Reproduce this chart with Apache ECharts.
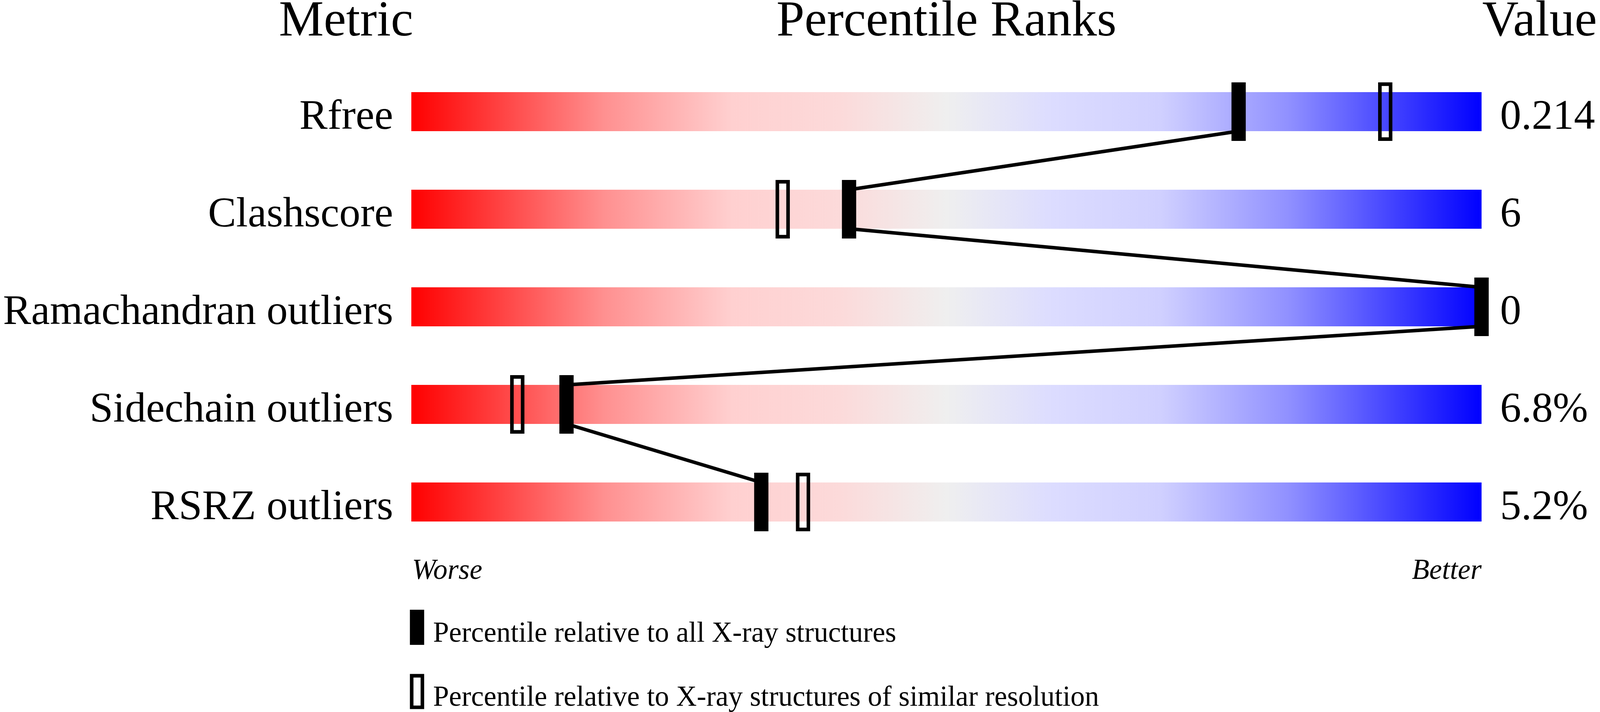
<!DOCTYPE html>
<html>
<head>
<meta charset="utf-8">
<title>Percentile Ranks</title>
<script src="https://cdn.jsdelivr.net/npm/echarts@6/dist/echarts.min.js"></script>
<style>
  html, body { margin: 0; padding: 0; background: #fff; overflow: hidden; }
  #chart { width: 100vw; height: 100vh; }
</style>
</head>
<body>
<div id="chart"></div>
<script>
const echarts = window.echarts

// 数据
const metrics = ['Rfree', 'Clashscore', 'Ramachandran outliers', 'Sidechain outliers', 'RSRZ outliers']
const metricValues = ['0.214', '6', '0', '6.8%', '5.2%']
// 相对所有X射线结构的百分位
const absolutePercentiles = [77.3, 40.9, 100, 14.5, 32.7]
// 相对相似分辨率结构的百分位
const relativePercentiles = [91.0, 34.7, 100, 9.9, 36.6]

const FONT = 'Liberation Serif'
const nameAll = 'Percentile relative to all X-ray structures'
const nameSimilar = 'Percentile relative to X-ray structures of similar resolution'

const chart = echarts.init(document.getElementById('chart'))

// 按参考图 4485x1824 设计，再按实际窗口缩放
const sx = chart.getWidth() / 4485
const sy = chart.getHeight() / 1824
const X = v => v * sx
const Y = v => v * sy
const F = v => Math.round(v * sx)
// 由基线求文字 middle 位置（经验系数）
const mid = (baseline, size) => Y(baseline) - 0.31 * size

const BAR_HEIGHT = Y(100)
const MARKER_W = X(40)
const MARKER_H = Y(150)
const LINE_W = 10 * sx

const headSize = F(141)
const labelSize = F(118)
const smallSize = F(80)

// 标签所在网格相对条形网格向下偏移，使基线落在条形底边
const labelDy = mid(335, labelSize) - Y(286)

const gradient = new echarts.graphic.LinearGradient(0, 0, 1, 0, [
  { offset: 0, color: '#ff0000' },
  { offset: 0.18, color: '#ff9090' },
  { offset: 0.3, color: '#ffd0d0' },
  { offset: 0.4, color: '#fcdada' },
  { offset: 0.5, color: '#efefef' },
  { offset: 0.6, color: '#dcdcff' },
  { offset: 0.7, color: '#d0d0ff' },
  { offset: 0.82, color: '#9090ff' },
  { offset: 1, color: '#0000ff' }
])

// 连接线：当前行底部 -> 下一行顶部
const links = absolutePercentiles.slice(0, -1).map((p, i) => [p, i, absolutePercentiles[i + 1], i + 1])

const hiddenAxis = {
  axisLine: { show: false },
  axisTick: { show: false },
  splitLine: { show: false }
}

const option = {
  backgroundColor: '#fff',
  animation: false,
  grid: [
    { left: X(1153), right: X(332), top: Y(161), bottom: Y(413) },
    { left: X(1153), right: X(332), top: Y(161) + labelDy, bottom: Y(413) - labelDy }
  ],
  xAxis: [
    { type: 'value', min: 0, max: 100, show: false, gridIndex: 0 },
    { type: 'value', min: 0, max: 100, show: false, gridIndex: 1 }
  ],
  yAxis: [
    { type: 'category', data: metrics, inverse: true, show: false, gridIndex: 0 },
    {
      type: 'category',
      data: metrics,
      inverse: true,
      gridIndex: 1,
      position: 'left',
      ...hiddenAxis,
      axisLabel: { fontFamily: FONT, fontSize: labelSize, color: '#000', margin: X(51) }
    },
    {
      type: 'category',
      data: metricValues,
      inverse: true,
      gridIndex: 1,
      position: 'right',
      ...hiddenAxis,
      axisLabel: { fontFamily: FONT, fontSize: labelSize, color: '#000', margin: X(52), align: 'left' }
    }
  ],
  legend: [
    {
      data: [{ name: nameAll, icon: 'rect', itemStyle: { color: '#000', borderWidth: 0 } }],
      left: X(1149), top: Y(1562), padding: 0,
      itemWidth: X(40), itemHeight: Y(90),
      selectedMode: false,
      formatter: name => `{t|${name}}`,
      textStyle: {
        rich: { t: { fontFamily: FONT, fontSize: smallSize, color: '#000', padding: [2 * (mid(1647, smallSize) - Y(1607)), 0, 0, X(1214) - X(1189) - 5] } }
      }
    },
    {
      data: [{ name: nameSimilar, icon: 'rect', itemStyle: { color: 'transparent', borderColor: '#000', borderWidth: LINE_W } }],
      left: X(1149), top: Y(1722) + LINE_W / 2, padding: 0,
      itemWidth: X(40) - LINE_W, itemHeight: Y(90) - LINE_W,
      selectedMode: false,
      formatter: name => `{t|${name}}`,
      textStyle: {
        rich: { t: { fontFamily: FONT, fontSize: smallSize, color: '#000', padding: [2 * (mid(1807, smallSize) - Y(1767)), 0, 0, X(1214) - X(1189) + LINE_W / 2 - 5] } }
      }
    }
  ],
  graphic: [
    { type: 'text', x: X(970), y: mid(97, headSize), style: { text: 'Metric', font: `${headSize}px "${FONT}"`, fill: '#000', align: 'center', verticalAlign: 'middle' } },
    { type: 'text', x: X(2653), y: mid(97, headSize), style: { text: 'Percentile Ranks', font: `${headSize}px "${FONT}"`, fill: '#000', align: 'center', verticalAlign: 'middle' } },
    { type: 'text', x: X(4155), y: mid(97, headSize), style: { text: 'Value', font: `${headSize}px "${FONT}"`, fill: '#000', align: 'left', verticalAlign: 'middle' } },
    { type: 'text', x: X(1155), y: mid(1486, smallSize), style: { text: 'Worse', font: `italic ${smallSize}px "${FONT}"`, fill: '#000', align: 'left', verticalAlign: 'middle' } },
    { type: 'text', x: X(4153), y: mid(1486, smallSize), style: { text: 'Better', font: `italic ${smallSize}px "${FONT}"`, fill: '#000', align: 'right', verticalAlign: 'middle' } }
  ],
  series: [
    {
      type: 'bar',
      silent: true,
      data: metrics.map(() => 100),
      barWidth: BAR_HEIGHT,
      itemStyle: { color: gradient },
      z: 1
    },
    {
      name: nameSimilar,
      type: 'custom',
      silent: true,
      z: 3,
      data: relativePercentiles.map((p, i) => [p, i]),
      renderItem(params, api) {
        const c = api.coord([api.value(0), api.value(1)])
        return {
          type: 'rect',
          shape: {
            x: c[0] - MARKER_W / 2 + LINE_W / 2,
            y: c[1] - MARKER_H / 2 + LINE_W / 2,
            width: MARKER_W - LINE_W,
            height: MARKER_H - LINE_W
          },
          style: { fill: 'none', stroke: '#000', lineWidth: LINE_W }
        }
      }
    },
    {
      type: 'custom',
      silent: true,
      z: 4,
      data: links,
      renderItem(params, api) {
        const a = api.coord([api.value(0), api.value(1)])
        const b = api.coord([api.value(2), api.value(3)])
        return {
          type: 'line',
          shape: { x1: a[0], y1: a[1] + BAR_HEIGHT / 2, x2: b[0], y2: b[1] - BAR_HEIGHT / 2 },
          style: { stroke: '#000', lineWidth: LINE_W }
        }
      }
    },
    {
      name: nameAll,
      type: 'custom',
      silent: true,
      z: 5,
      data: absolutePercentiles.map((p, i) => [p, i]),
      renderItem(params, api) {
        const c = api.coord([api.value(0), api.value(1)])
        return {
          type: 'rect',
          shape: { x: c[0] - MARKER_W / 2, y: c[1] - MARKER_H / 2, width: MARKER_W, height: MARKER_H },
          style: { fill: '#000' }
        }
      }
    }
  ]
}

chart.setOption(option)

window.addEventListener('resize', () => {
  chart.resize()
})
</script>
</body>
</html>
